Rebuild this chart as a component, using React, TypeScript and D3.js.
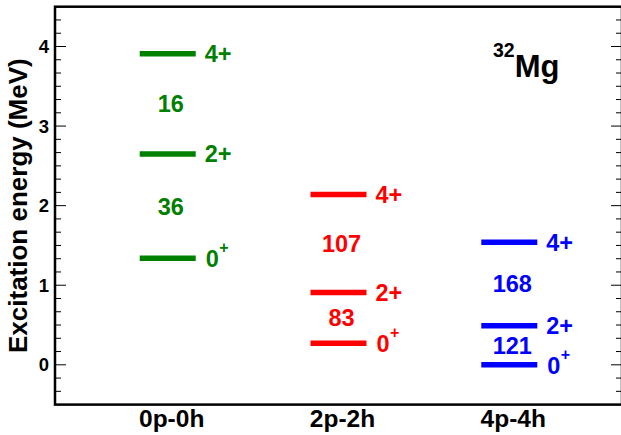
import React from "react";
import * as d3 from "d3";

// Shell-model configurations of 32Mg and their low-lying yrast states
const configs = ["0p-0h", "2p-2h", "4p-4h"];
const configColors = ["#008000", "#ff0000", "#0000ff"];
const spins = ["0", "2", "4"];

// Excitation energies (MeV) of the 0+, 2+, 4+ states for each configuration
const energies0p0h = [1.34, 2.65, 3.91];
const energies2p2h = [0.27, 0.91, 2.14];
const energies4p4h = [0.0, 0.49, 1.54];

// B(E2) values for 2+ -> 0+ and 4+ -> 2+ transitions
const be2_0p0h = [36, 16];
const be2_2p2h = [83, 107];
const be2_4p4h = [121, 168];

const yMajorTicks = [0, 1, 2, 3, 4];
const yDomain = [-0.5, 4.5];
const minorPerUnit = 6;

const W = 621;
const H = 435;
const frame = { left: 55, right: 622, top: 6.7, bottom: 404.6 };
const FONT = "'Liberation Sans', Arial, Helvetica, sans-serif";

export default function App() {
  const energies = [energies0p0h, energies2p2h, energies4p4h];
  const be2 = [be2_0p0h, be2_2p2h, be2_4p4h];

  const y = d3.scaleLinear().domain(yDomain).range([frame.bottom, frame.top]);
  const x = d3
    .scalePoint<string>()
    .domain(configs)
    .range([frame.left, frame.right])
    .padding(0.66);

  const minorTicks = d3
    .range(Math.ceil(yDomain[0] * minorPerUnit), Math.floor(yDomain[1] * minorPerUnit) + 1)
    .filter((k) => k % minorPerUnit !== 0)
    .map((k) => k / minorPerUnit);

  const halfW = 28;

  return (
    <svg
      width={W}
      height={H}
      style={{ position: "absolute", left: 0, top: 0, background: "#fff" }}
      fontFamily={FONT}
      fontWeight="bold"
    >
      <rect x={0} y={0} width={W} height={H} fill="#fff" />

      {/* ticks on left and right axes */}
      {minorTicks.map((t) => (
        <g key={"m" + t} stroke="#000" strokeWidth={1}>
          <line x1={frame.left} x2={frame.left + 6} y1={y(t)} y2={y(t)} />
          <line x1={frame.right} x2={frame.right - 6} y1={y(t)} y2={y(t)} />
        </g>
      ))}
      {yMajorTicks.map((t) => (
        <g key={"M" + t}>
          <line x1={frame.left} x2={frame.left + 11} y1={y(t)} y2={y(t)} stroke="#000" strokeWidth={1} />
          <line x1={frame.right} x2={frame.right - 11} y1={y(t)} y2={y(t)} stroke="#000" strokeWidth={1} />
          <text x={49} y={y(t)} dy="0.36em" textAnchor="end" fontSize={18.5}>
            {t}
          </text>
        </g>
      ))}

      {/* frame */}
      <rect
        x={frame.left}
        y={frame.top}
        width={frame.right - frame.left}
        height={frame.bottom - frame.top}
        fill="none"
        stroke="#000"
        strokeWidth={2.5}
      />

      {/* y-axis title */}
      <text
        transform={`translate(27,${(frame.top + frame.bottom) / 2}) rotate(-90)`}
        textAnchor="middle"
        fontSize={26}
      >
        Excitation energy (MeV)
      </text>

      {/* configuration labels */}
      {configs.map((c) => (
        <text key={c} x={(x(c) as number) + 4} y={427} textAnchor="middle" fontSize={24.5}>
          {c}
        </text>
      ))}

      {/* levels, spin labels, transition strengths */}
      {configs.map((c, ci) => {
        const cx = x(c) as number;
        const col = configColors[ci];
        const es = energies[ci];
        return (
          <g key={"lv" + c} fill={col}>
            {es.map((e, si) => (
              <g key={si}>
                <line
                  x1={cx - halfW}
                  x2={cx + halfW}
                  y1={y(e)}
                  y2={y(e)}
                  stroke={col}
                  strokeWidth={5.5}
                />
                {spins[si] === "0" ? (
                  <text x={cx + halfW + 10} y={y(e) + 9} fontSize={23.5}>
                    <tspan>{spins[si]}</tspan>
                    <tspan fontSize={16} dx={0.5} dy={-14}>
                      +
                    </tspan>
                  </text>
                ) : (
                  <text x={cx + halfW + 9} y={y(e) + 8.5} fontSize={23.5}>
                    {spins[si]}+
                  </text>
                )}
              </g>
            ))}
            {be2[ci].map((v, ti) => (
              <text
                key={"b" + ti}
                x={cx + 3}
                y={y((es[ti] + es[ti + 1]) / 2)}
                dy="0.36em"
                textAnchor="middle"
                fontSize={23.5}
              >
                {v}
              </text>
            ))}
          </g>
        );
      })}

      {/* nucleus label */}
      <text x={493} y={57}>
        <tspan fontSize={19.5}>32</tspan>
        <tspan fontSize={31} dy={20}>
          Mg
        </tspan>
      </text>
    </svg>
  );
}
